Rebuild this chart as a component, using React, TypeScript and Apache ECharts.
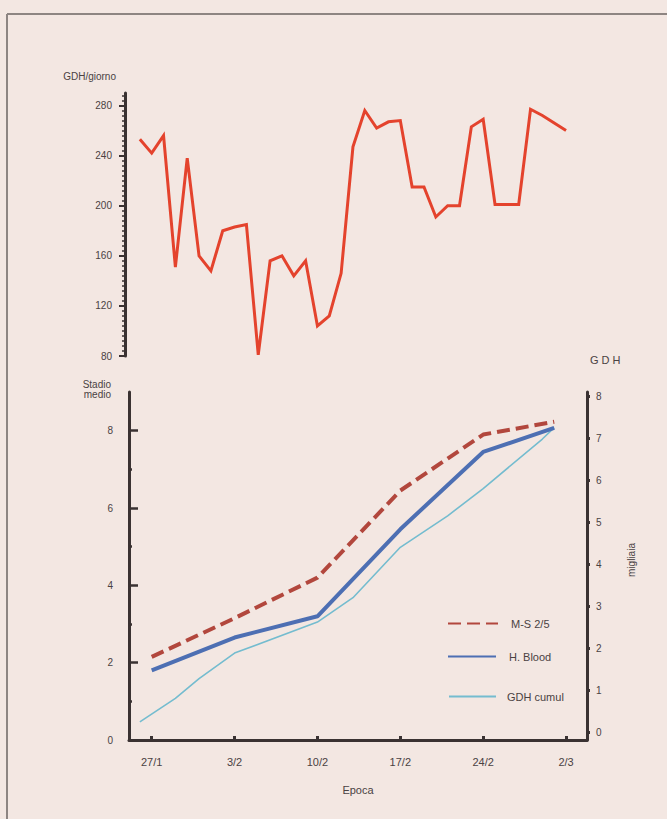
import React, { useEffect, useRef } from "react";
import * as echarts from "echarts";

// ---- Data ----
// Upper panel: daily GDH, days counted from 27/1 (-1 = 26/1)
const gdhDays = [-1, 0, 1, 2, 3, 4, 5, 6, 7, 8, 9, 10, 11, 12, 13, 14, 15, 16, 17, 18, 19, 20, 21, 22, 23, 24, 25, 26, 27, 28, 29, 30, 31, 32, 33, 34, 35];
const gdhPerDay = [253, 242, 256, 151, 238, 160, 148, 180, 183, 185, 81, 156, 160, 144, 156, 104, 112, 146, 247, 276, 262, 267, 268, 215, 215, 191, 200, 200, 263, 269, 201, 201, 201, 277, 272, 266, 260];
const upperMajorTicks = [80, 120, 160, 200, 240, 280];

// Lower panel: mean stage and cumulated GDH
const stageDays = [0, 7, 14, 21, 28, 34];
const msStage = [2.15, 3.15, 4.2, 6.45, 7.9, 8.23];
const hBloodStage = [1.8, 2.65, 3.2, 5.45, 7.45, 8.07];
const cumulDays = [-1, 2, 4, 7, 14, 17, 21, 25, 28, 33, 34];
const cumulThousands = [0.24, 0.8, 1.27, 1.88, 2.62, 3.2, 4.4, 5.15, 5.8, 6.98, 7.25];

const dateTickDays = [0, 7, 14, 21, 28, 35];
const dateTickLabels = ["27/1", "3/2", "10/2", "17/2", "24/2", "2/3"];
const stageMajorTicks = [0, 2, 4, 6, 8];
const stageMinorTicks = [1, 3, 5, 7];
const thousandTicks = [0, 1, 2, 3, 4, 5, 6, 7, 8];

const FONT = "'Liberation Sans', Arial, Helvetica, sans-serif";
const INK = "#3a3232";
const TXT = "#4a4242";

export default function App() {
  const ref = useRef<HTMLDivElement>(null);

  useEffect(() => {
    if (!ref.current) return;
    const chart = echarts.init(ref.current, undefined, { renderer: "svg" });

    const upperMinor: number[] = [];
    for (let v = 80; v <= 288; v += 4) if (v % 40 !== 0) upperMinor.push(v);

    const pairs = (xs: number[], ys: number[]) => xs.map((x, i) => [x, ys[i]]);

    const legendBase = {
      orient: "vertical",
      itemHeight: 14,
      itemStyle: { opacity: 0 },
      textStyle: { color: TXT, fontSize: 11, fontFamily: FONT, padding: [0, 0, 0, 8] },
    };

    chart.setOption({
      animation: false,
      backgroundColor: "#f3e7e2",
      textStyle: { fontFamily: FONT },
      grid: [
        { left: 125, right: 80, top: 93, height: 263 },
        { left: 129, right: 80, top: 392, bottom: 79 },
      ],
      xAxis: [
        { type: "value", gridIndex: 0, min: -2.256, max: 36.77, show: false, axisLine: { onZero: false } },
        {
          type: "value",
          gridIndex: 1,
          min: -1.918,
          max: 36.77,
          splitLine: { show: false },
          axisLine: { onZero: false, lineStyle: { color: INK, width: 3 } },
          axisTick: { inside: true, length: 4, lineStyle: { color: INK, width: 3 }, customValues: dateTickDays },
          axisLabel: {
            customValues: dateTickDays,
            formatter: (v: number) => dateTickLabels[dateTickDays.indexOf(v)] ?? "",
            color: TXT,
            fontSize: 11,
            margin: 16,
            fontFamily: FONT,
          },
          name: "Epoca",
          nameLocation: "middle",
          nameGap: 44,
          nameTextStyle: { color: TXT, fontSize: 11, fontFamily: FONT },
        },
      ],
      yAxis: [
        {
          type: "value",
          gridIndex: 0,
          position: "left",
          min: 80,
          max: 290,
          splitLine: { show: false },
          axisLine: { show: true, onZero: false, lineStyle: { color: INK, width: 3 } },
          axisTick: { show: true, length: 6, lineStyle: { color: INK, width: 2 }, customValues: upperMajorTicks },
          axisLabel: { customValues: upperMajorTicks, color: TXT, fontSize: 10, margin: 13, fontFamily: FONT },
        },
        {
          type: "value",
          gridIndex: 0,
          position: "left",
          min: 80,
          max: 290,
          splitLine: { show: false },
          axisLine: { show: false, onZero: false },
          axisTick: { show: true, length: 3, lineStyle: { color: INK, width: 1.5 }, customValues: upperMinor },
          axisLabel: { show: false },
        },
        {
          type: "value",
          gridIndex: 1,
          position: "left",
          min: 0,
          max: 9,
          splitLine: { show: false },
          axisLine: { show: true, onZero: false, lineStyle: { color: INK, width: 3 } },
          axisTick: { show: true, inside: true, length: 9, lineStyle: { color: INK, width: 2.5 }, customValues: stageMajorTicks },
          axisLabel: { customValues: stageMajorTicks, color: TXT, fontSize: 10, margin: 16, fontFamily: FONT },
        },
        {
          type: "value",
          gridIndex: 1,
          position: "left",
          min: 0,
          max: 9,
          splitLine: { show: false },
          axisLine: { show: false, onZero: false },
          axisTick: { show: true, inside: true, length: 3, lineStyle: { color: INK, width: 2.5 }, customValues: stageMinorTicks },
          axisLabel: { show: false },
        },
        {
          type: "value",
          gridIndex: 1,
          position: "right",
          min: -0.19,
          max: 8.1,
          splitLine: { show: false },
          axisLine: { show: true, onZero: false, lineStyle: { color: INK, width: 3 } },
          axisTick: { show: true, length: 3, lineStyle: { color: INK, width: 3 }, customValues: thousandTicks },
          axisLabel: { customValues: thousandTicks, color: TXT, fontSize: 10, margin: 9, fontFamily: FONT },
        },
      ],
      legend: [
        { ...legendBase, data: ["M-S 2/5"], left: 442, top: 613, itemWidth: 50 },
        { ...legendBase, data: ["H. Blood"], left: 442, top: 646, itemWidth: 48 },
        { ...legendBase, data: ["GDH cumul"], left: 443, top: 686, itemWidth: 47, textStyle: { ...legendBase.textStyle, padding: [0, 0, 0, 6] } },
      ],
      graphic: [
        { type: "line", shape: { x1: 7, y1: 14, x2: 667, y2: 14 }, style: { stroke: "#8d8582", lineWidth: 2 } },
        { type: "line", shape: { x1: 7, y1: 14, x2: 7, y2: 819 }, style: { stroke: "#8d8582", lineWidth: 2 } },
        { type: "text", x: 116, y: 76, style: { text: "GDH/giorno", fill: TXT, font: `10px ${FONT}`, textAlign: "right", textVerticalAlign: "middle" } },
        { type: "text", x: 111, y: 389, style: { text: "Stadio\nmedio", fill: TXT, font: `10px ${FONT}`, textAlign: "right", textVerticalAlign: "middle", lineHeight: 10 } },
        { type: "text", x: 590, y: 360, style: { text: "G D H", fill: TXT, font: `11px ${FONT}`, textAlign: "left", textVerticalAlign: "middle" } },
        { type: "text", x: 631, y: 560, rotation: Math.PI / 2, style: { text: "migliaia", fill: TXT, font: `10px ${FONT}`, textAlign: "center", textVerticalAlign: "middle" } },
      ],
      series: [
        {
          name: "GDH/giorno",
          type: "line",
          xAxisIndex: 0,
          yAxisIndex: 0,
          data: pairs(gdhDays, gdhPerDay),
          symbol: "none",
          lineStyle: { color: "#e4432d", width: 3, join: "miter" },
          itemStyle: { color: "#e4432d" },
        },
        {
          name: "GDH cumul",
          type: "line",
          xAxisIndex: 1,
          yAxisIndex: 4,
          data: pairs(cumulDays, cumulThousands),
          symbol: "none",
          lineStyle: { color: "#74bccf", width: 1.6 },
          itemStyle: { color: "#74bccf" },
        },
        {
          name: "H. Blood",
          type: "line",
          xAxisIndex: 1,
          yAxisIndex: 2,
          data: pairs(stageDays, hBloodStage),
          symbol: "none",
          lineStyle: { color: "#4d6fb3", width: 4 },
          itemStyle: { color: "#4d6fb3" },
        },
        {
          name: "M-S 2/5",
          type: "line",
          xAxisIndex: 1,
          yAxisIndex: 2,
          data: pairs(stageDays, msStage),
          symbol: "none",
          lineStyle: { color: "#b2473d", width: 4, type: [13, 6] },
          itemStyle: { color: "#b2473d" },
        },
      ],
    });

    return () => chart.dispose();
  }, []);

  return (
    <div
      ref={ref}
      style={{ position: "fixed", left: 0, top: 0, width: 667, height: 819 }}
    />
  );
}
